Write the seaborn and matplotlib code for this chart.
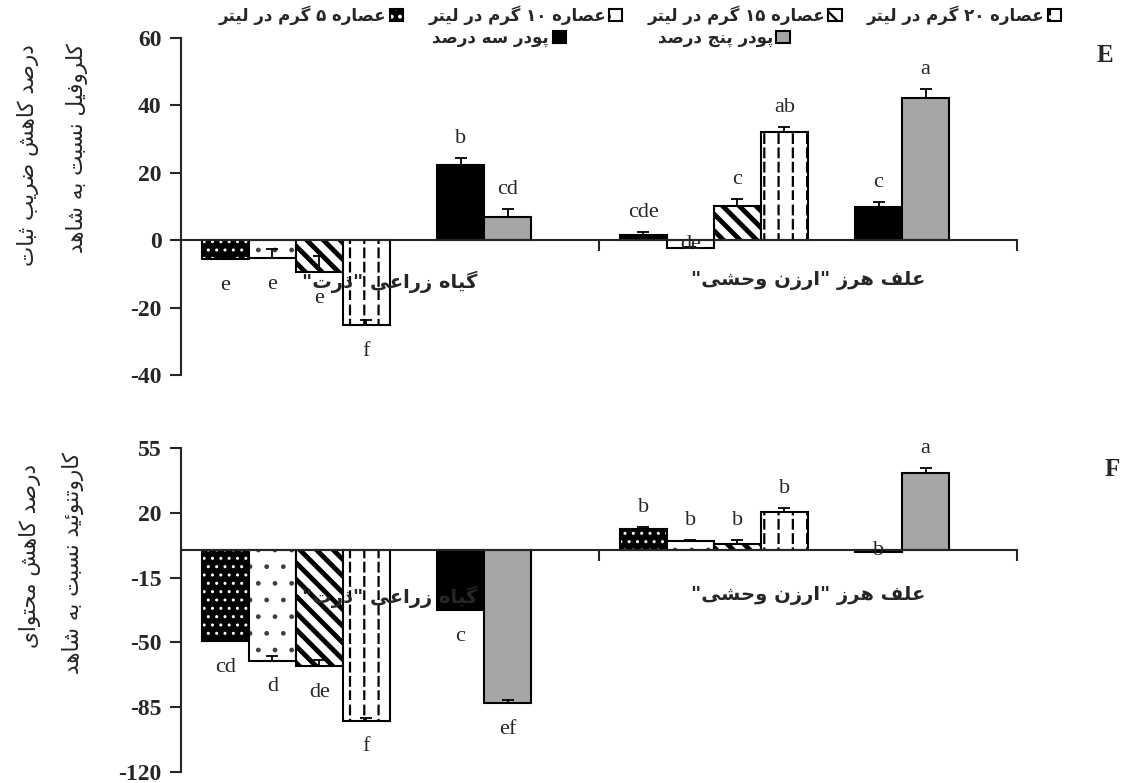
"""Percent reduction in chlorophyll stability (E) and carotenoid content (F)."""

import re

import matplotlib
matplotlib.use("Agg")
import matplotlib.hatch as mhatch
import matplotlib.pyplot as plt
import numpy as np
import pandas as pd
import seaborn as sns
from matplotlib.colors import to_rgba
from matplotlib.font_manager import FontProperties
from matplotlib.patches import Patch
from matplotlib.path import Path as MPath

GROUPS = ['گیاه زراعی "ذرت"', 'علف هرز "ارزن وحشی"']
SERIES = ["عصاره ۵ گرم در لیتر", "عصاره ۱۰ گرم در لیتر", "عصاره ۱۵ گرم در لیتر",
          "عصاره ۲۰ گرم در لیتر", "پودر سه درصد", "پودر پنج درصد"]
SLOTS = SERIES[:4] + ["gap_a"] + SERIES[4:] + ["gap_b"]

# panel E: chlorophyll stability index
CHL_CROP = [-5.5, -5.2, -9.5, -25.3, 22.3, 6.8]
CHL_WEED = [1.5, -2.3, 10.1, 32.1, 9.8, 42.3]
CHL_CROP_ERR = [0.5, 2.6, 4.8, 1.5, 2.0, 2.4]
CHL_WEED_ERR = [1.0, 0.4, 2.0, 1.6, 1.5, 2.7]
CHL_CROP_LET = ["e", "e", "e", "f", "b", "cd"]
CHL_WEED_LET = ["cde", "de", "c", "ab", "c", "a"]

# panel F: carotenoid content
CAR_CROP = [-49.5, -59.8, -62.7, -92.2, -32.4, -82.8]
CAR_WEED = [11.2, 4.9, 3.2, 20.7, -1.2, 41.4]
CAR_CROP_ERR = [0.8, 2.5, 3.0, 1.5, 0.5, 1.8]
CAR_WEED_ERR = [1.4, 0.6, 2.2, 1.8, 0.3, 2.7]
CAR_CROP_LET = ["cd", "d", "de", "f", "c", "ef"]
CAR_WEED_LET = ["b", "b", "b", "b", "b", "a"]

FILL = dict(zip(SERIES, ["black", "white", "white", "white", "black", "#a6a6a6"]))
HATCH = dict(zip(SERIES[:4], ["..", ".", "\\\\", "|"]))
HATCH_COLOR = dict(zip(SERIES[:4], ["white", "#404040", "black", "black"]))
HATCH_LW = dict(zip(SERIES[:4], [1.0, 1.0, 3.5, 1.6]))

_FORMS = {  # isolated, final, initial, medial
    "ا": "\uFE8D\uFE8E", "د": "\uFEA9\uFEAA", "ذ": "\uFEAB\uFEAC", "ر": "\uFEAD\uFEAE",
    "ز": "\uFEAF\uFEB0", "و": "\uFEED\uFEEE",
    "ب": "\uFE8F\uFE90\uFE91\uFE92", "ت": "\uFE95\uFE96\uFE97\uFE98",
    "ث": "\uFE99\uFE9A\uFE9B\uFE9C", "ج": "\uFE9D\uFE9E\uFE9F\uFEA0",
    "ح": "\uFEA1\uFEA2\uFEA3\uFEA4", "س": "\uFEB1\uFEB2\uFEB3\uFEB4",
    "ش": "\uFEB5\uFEB6\uFEB7\uFEB8", "ص": "\uFEB9\uFEBA\uFEBB\uFEBC",
    "ض": "\uFEBD\uFEBE\uFEBF\uFEC0", "ع": "\uFEC9\uFECA\uFECB\uFECC",
    "ف": "\uFED1\uFED2\uFED3\uFED4", "ل": "\uFEDD\uFEDE\uFEDF\uFEE0",
    "م": "\uFEE1\uFEE2\uFEE3\uFEE4", "ن": "\uFEE5\uFEE6\uFEE7\uFEE8",
    "ه": "\uFEE9\uFEEA\uFEEB\uFEEC", "ئ": "\uFE89\uFE8A\uFE8B\uFE8C",
    "ی": "\uFBFC\uFBFD\uFBFE\uFBFF", "پ": "\uFB56\uFB57\uFB58\uFB59",
    "گ": "\uFB92\uFB93\uFB94\uFB95", "ک": "\uFB8E\uFB8F\uFB90\uFB91",
}


def fa(text):
    """Minimal Persian shaping + RTL reordering (matplotlib has no CTL)."""
    out = []
    for i, ch in enumerate(text):
        forms = _FORMS.get(ch)
        if forms is None:
            out.append(ch)
            continue
        prev = _FORMS.get(text[i - 1], "") if i > 0 else ""
        nxt = text[i + 1] if i + 1 < len(text) else ""
        jp = len(prev) == 4
        jn = len(forms) == 4 and nxt in _FORMS
        if jp and jn:
            out.append(forms[3])
        elif jp:
            out.append(forms[1])
        elif jn:
            out.append(forms[2])
        else:
            out.append(forms[0])
    vis = "".join(out)[::-1]
    return re.sub(r"[0-9\u06F0-\u06F9]+", lambda m: m.group(0)[::-1], vis)


class _DashedVertical(mhatch.HatchPatternBase):
    """'|' hatch drawn as dashed vertical lines."""

    def __init__(self, hatch, density):
        self.num_lines = int((hatch.count("|") + hatch.count("+")) * 7)
        self.num_dashes = 7
        self.num_vertices = self.num_lines * self.num_dashes * 2

    def set_vertices_and_codes(self, vertices, codes):
        xs = np.repeat(np.linspace(0.0, 1.0, self.num_lines, False), self.num_dashes)
        ys = np.tile(np.linspace(0.0, 1.0, self.num_dashes, False), self.num_lines)
        vertices[0::2, 0] = xs + 0.5 / self.num_lines
        vertices[0::2, 1] = ys
        vertices[1::2, 0] = xs + 0.5 / self.num_lines
        vertices[1::2, 1] = ys + 0.6 / self.num_dashes
        codes[0::2] = MPath.MOVETO
        codes[1::2] = MPath.LINETO


mhatch._hatch_types = [_DashedVertical if t is mhatch.VerticalHatch else t
                       for t in mhatch._hatch_types]

sns.set_style("ticks")
plt.rcParams["font.family"] = ["Liberation Serif", "DejaVu Sans"]
plt.rcParams["hatch.linewidth"] = 1.6
plt.rcParams["axes.axisbelow"] = False

FA_BOLD = dict(family="DejaVu Sans", weight="bold")
NUM_FONT = FontProperties(family="Liberation Serif", weight="bold", size=17)


def style_patch(p, name):
    p.set_facecolor(FILL[name])
    p.set_edgecolor("black")
    p.set_linewidth(1.5)
    if name in HATCH:
        p.set_hatch(HATCH[name])
        p._hatch_color = to_rgba(HATCH_COLOR[name])
        if hasattr(p, "set_hatch_linewidth"):
            p.set_hatch_linewidth(HATCH_LW[name])


def draw_panel(ax, crop, weed, crop_err, weed_err, crop_let, weed_let,
               ylim, yticks, label_pad):
    df = pd.DataFrame({
        "group": np.repeat(GROUPS, len(SERIES)),
        "series": SERIES * 2,
        "value": crop + weed,
        "err": crop_err + weed_err,
        "letter": crop_let + weed_let,
    })
    palette = {s: "white" for s in SLOTS}
    sns.barplot(data=df, x="group", y="value", hue="series", order=GROUPS,
                hue_order=SLOTS, palette=palette, width=0.9, saturation=1,
                errorbar=None, legend=False, ax=ax)
    ax.set_axisbelow(False)
    ax.set_ylim(*ylim)
    ax.set_xlim(-0.5, 1.5)
    slot_w = 0.9 / len(SLOTS)
    span = ylim[1] - ylim[0]
    xs, vs, es = [], [], []
    for p in ax.patches:
        cx = p.get_x() + p.get_width() / 2
        gi = int(round(cx))
        name = SLOTS[int(np.floor((cx - gi + 0.45) / slot_w))]
        style_patch(p, name)
        row = df[(df.group == GROUPS[gi]) & (df.series == name)].iloc[0]
        xs.append(cx)
        vs.append(row.value)
        es.append(row.err)
        if row.value >= 0:
            ax.annotate(row.letter, (cx, row.value + row.err), xytext=(0, 14),
                        textcoords="offset points", ha="center", va="center",
                        fontsize=16, zorder=4)
        elif abs(row.value) / span < 0.03:
            ax.annotate(row.letter, (cx, row.value / 2), ha="center",
                        va="center", fontsize=16, zorder=4)
        else:
            ax.annotate(row.letter, (cx, row.value), xytext=(0, -19),
                        textcoords="offset points", ha="center", va="center",
                        fontsize=16, zorder=4)
    ax.errorbar(xs, vs, yerr=[np.zeros(len(es)), es], fmt="none", ecolor="black",
                elinewidth=1.3, capsize=4.5, capthick=1.3, zorder=3)

    for side in ("top", "right"):
        ax.spines[side].set_visible(False)
    ax.spines["left"].set_linewidth(1.5)
    ax.spines["bottom"].set_linewidth(1.5)
    ax.spines["bottom"].set_position(("data", 0))
    ax.set_xticks([0, 1])
    ax.set_xticklabels([fa(g) for g in GROUPS])
    for t in ax.get_xticklabels():
        t.set_fontproperties(FontProperties(size=14, **FA_BOLD))
    ax.set_xticks([-0.5, 0.5, 1.5], minor=True)
    ax.tick_params(axis="x", which="major", length=0, pad=label_pad)
    ax.tick_params(axis="x", which="minor", length=8, width=1.5, direction="out")
    ax.set_yticks(yticks)
    ax.set_yticklabels([str(v) for v in yticks])
    for t in ax.get_yticklabels():
        t.set_fontproperties(NUM_FONT)
    ax.tick_params(axis="y", length=8, width=1.5, direction="out", pad=6)
    ax.set_xlabel("")
    ax.set_ylabel("")


W, H = 1126, 783
fig = plt.figure(figsize=(W / 100, H / 100), dpi=100)
ax1 = fig.add_axes([181 / W, 1 - 375 / H, 836 / W, 337 / H])
ax2 = fig.add_axes([181 / W, 1 - 772 / H, 836 / W, 324 / H])

draw_panel(ax1, CHL_CROP, CHL_WEED, CHL_CROP_ERR, CHL_WEED_ERR,
           CHL_CROP_LET, CHL_WEED_LET, (-40, 60), [-40, -20, 0, 20, 40, 60], 22)
draw_panel(ax2, CAR_CROP, CAR_WEED, CAR_CROP_ERR, CAR_WEED_ERR,
           CAR_CROP_LET, CAR_WEED_LET, (-120, 55), [-120, -85, -50, -15, 20, 55], 26)

fa_label = dict(family="DejaVu Sans", size=15.5, rotation=90, ha="center", va="center")
fig.text(28 / W, 1 - 155 / H, fa("درصد کاهش ضریب ثبات"), **fa_label)
fig.text(77 / W, 1 - 148 / H, fa("کلروفیل نسبت به شاهد"), **fa_label)
fig.text(30 / W, 1 - 556 / H, fa("درصد کاهش محتوای"), **fa_label)
fig.text(73 / W, 1 - 563 / H, fa("کاروتنوئید نسبت به شاهد"), **fa_label)

fig.text(1105 / W, 1 - 55 / H, "E", fontsize=18, weight="bold", ha="center", va="center")
fig.text(1112 / W, 1 - 470 / H, "F", fontsize=18, weight="bold", ha="center", va="center")

handles = []
for s in SERIES:
    h = Patch(label=fa(s))
    style_patch(h, s)
    handles.append(h)
leg_kw = dict(loc="center", frameon=False, markerfirst=False, handlelength=0.8,
              handleheight=0.8, handletextpad=0.2, columnspacing=1.5,
              prop=FontProperties(size=12, **FA_BOLD))
fig.legend(handles=handles[:4], ncol=4, bbox_to_anchor=(640 / W, 1 - 15 / H), **leg_kw)
fig.legend(handles=handles[4:], ncol=2, bbox_to_anchor=(611 / W, 1 - 38 / H),
           **{**leg_kw, "columnspacing": 5.5})

fig.savefig("out.png", dpi=100)
